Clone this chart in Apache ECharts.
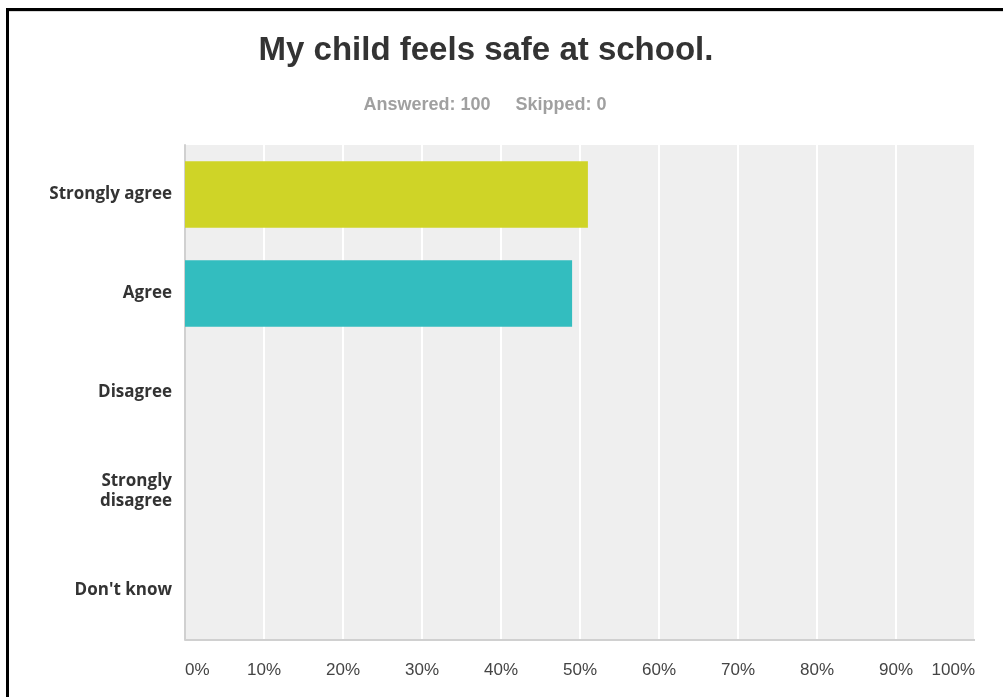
<!DOCTYPE html>
<html>
<head>
<meta charset="utf-8">
<script src="https://cdn.jsdelivr.net/npm/echarts@6/dist/echarts.min.js"></script>
<style>
html,body{margin:0;padding:0;background:#fff;}
#frame{position:absolute;left:6px;top:8px;width:1000px;height:700px;border-left:3px solid #000;border-top:3px solid #000;box-sizing:border-box;}
#frame:after{content:"";position:absolute;left:0;right:0;top:0;height:1px;background:#d8d8d8;}
#chart{position:absolute;left:0;top:0;width:1003px;height:697px;}
</style>
</head>
<body>
<div id="chart"></div>
<div id="frame"></div>
<script>
const titleText = "My child feels safe at school.";
const subtitleText = "Answered: 100     Skipped: 0";
const categories = ["Strongly agree", "Agree", "Disagree", "Strongly\ndisagree", "Don't know"];
const percentValues = [51, 49, 0, 0, 0];
const barColors = ["#cfd427", "#33bdbf", "#e05b4c", "#f5a623", "#9b59b6"];
const tickLabels = ["0%", "10%", "20%", "30%", "40%", "50%", "60%", "70%", "80%", "90%", "100%"];

const chart = echarts.init(document.getElementById('chart'));
chart.setOption({
  animation: false,
  backgroundColor: '#fff',
  title: [{
    text: titleText,
    left: 481, top: 29, textAlign: 'center',
    textStyle: {fontFamily: 'Liberation Sans, Arial', fontWeight: 'bold', fontSize: 33, color: '#333'}
  }, {
    text: subtitleText,
    left: 480, top: 91, textAlign: 'center',
    textStyle: {fontFamily: 'Liberation Sans, Arial', fontWeight: 'bold', fontSize: 18, color: '#a0a0a0'}
  }],
  grid: {left: 185, right: 28, top: 145, bottom: 57, show: true, backgroundColor: '#efefef', borderWidth: 0},
  xAxis: {
    type: 'value', min: 0, max: 100, interval: 10,
    axisLine: {show: false}, axisTick: {show: false},
    splitLine: {show: true, lineStyle: {color: '#ffffff', width: 2}},
    axisLabel: {
      margin: 22, color: '#444', fontSize: 17, fontFamily: 'Liberation Sans, Arial',
      formatter: (v) => tickLabels[Math.round(v / 10)],
      alignMinLabel: 'left', alignMaxLabel: 'right'
    }
  },
  yAxis: {
    type: 'category', inverse: true, data: categories,
    axisLine: {show: true, lineStyle: {color: '#d0d0d0', width: 2}},
    axisTick: {show: false},
    axisLabel: {margin: 13, color: '#333', fontSize: 17, fontWeight: 'bold', fontFamily: 'Open Sans', lineHeight: 20, padding: [6, 0, 0, 0]}
  },
  series: [{
    type: 'bar', barCategoryGap: '33%',
    data: percentValues.map((v, i) => ({value: v, itemStyle: {color: barColors[i]}}))
  }, {
    type: 'line', data: [], silent: true,
    markLine: {
      symbol: 'none', silent: true, label: {show: false},
      lineStyle: {color: '#d0d0d0', width: 2, type: 'solid'},
      data: [[{coord: [0, 4], y: 640}, {coord: [100, 4], y: 640}]]
    }
  }]
});
</script>
</body>
</html>
